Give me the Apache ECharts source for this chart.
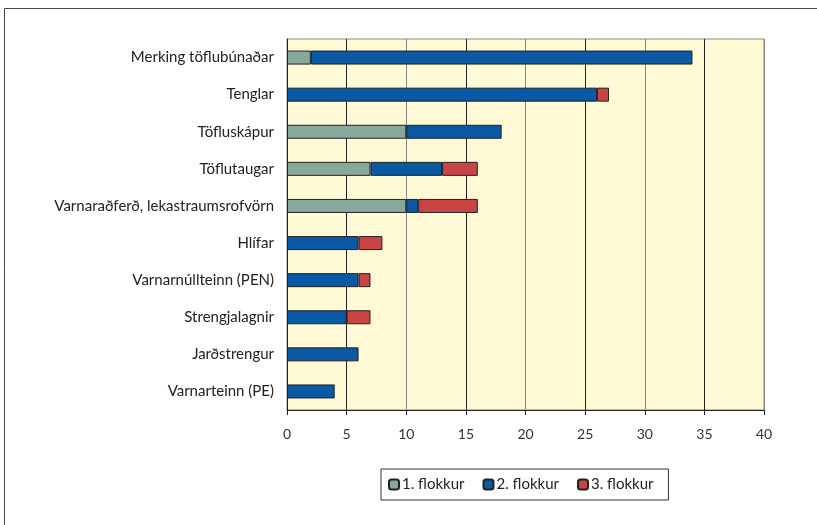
<!DOCTYPE html>
<html><head><meta charset="utf-8">
<script src="https://cdn.jsdelivr.net/npm/echarts@6/dist/echarts.min.js"></script>
<style>html,body{margin:0;padding:0;background:#fff}#c{width:817px;height:525px}</style>
</head><body><div id="c"></div>
<script>
const categories = ["Merking töflubúnaðar","Tenglar","Töfluskápur","Töflutaugar","Varnaraðferð, lekastraumsrofvörn","Hlífar","Varnarnúllteinn (PEN)","Strengjalagnir","Jarðstrengur","Varnarteinn (PE)"];
const flokkur1 = [2, 0, 10, 7, 10, 0, 0, 0, 0, 0];
const flokkur2 = [32, 26, 8, 6, 1, 6, 6, 5, 6, 4];
const flokkur3 = [0, 1, 0, 3, 5, 2, 1, 2, 0, 0];
const seriesNames = ["1. flokkur","2. flokkur","3. flokkur"];
const xTicks = [0, 5, 10, 15, 20, 25, 30, 35, 40];

const font = "Lato";
const colors = ["#87A99B", "#0A59A5", "#C94444"];
const chart = echarts.init(document.getElementById('c'), null, {renderer: 'canvas'});
const mk = (name, data, i) => ({
  name, type: 'bar', stack: 'a', data: data.map(v => v === 0 ? null : v),
  barWidth: 14,
  itemStyle: {color: colors[i], borderColor: '#222', borderWidth: 1},
  emphasis: {disabled: true}
});
chart.setOption({
  animation: false,
  textStyle: {fontFamily: font},
  graphic: [{type: 'rect', shape: {x: 4.5, y: 8.5, width: 900, height: 600}, style: {fill: 'none', stroke: '#444', lineWidth: 1}, silent: true}],
  grid: {left: 287, top: 39, right: 53, bottom: 115, show: true, backgroundColor: '#FFF9D6', borderColor: '#888', borderWidth: 1},
  xAxis: {
    type: 'value', min: xTicks[0], max: xTicks[xTicks.length - 1], interval: 5,
    axisLine: {show: true, lineStyle: {color: '#222'}},
    axisTick: {show: true, length: 5, lineStyle: {color: '#222'}},
    axisLabel: {color: '#333', fontSize: 14, margin: 17, fontFamily: font},
    splitLine: {show: true, lineStyle: {color: ['#888', '#222'], width: 1}}
  },
  yAxis: {
    type: 'category', data: categories, inverse: true,
    axisLine: {show: true, lineStyle: {color: '#222'}},
    axisTick: {show: false},
    axisLabel: {color: '#222', fontSize: 15, margin: 13, fontFamily: font}
  },
  legend: {
    data: seriesNames, left: 381, top: 469, orient: 'horizontal',
    padding: [8, 15, 8, 7], itemGap: 18, itemWidth: 10, itemHeight: 10,
    borderColor: '#333', borderWidth: 1, backgroundColor: '#fff',
    textStyle: {color: '#222', fontSize: 15, fontFamily: font, padding: [0, 0, 0, -2]}
  },
  series: [mk(seriesNames[0], flokkur1, 0), mk(seriesNames[1], flokkur2, 1), mk(seriesNames[2], flokkur3, 2)]
});
</script></body></html>
